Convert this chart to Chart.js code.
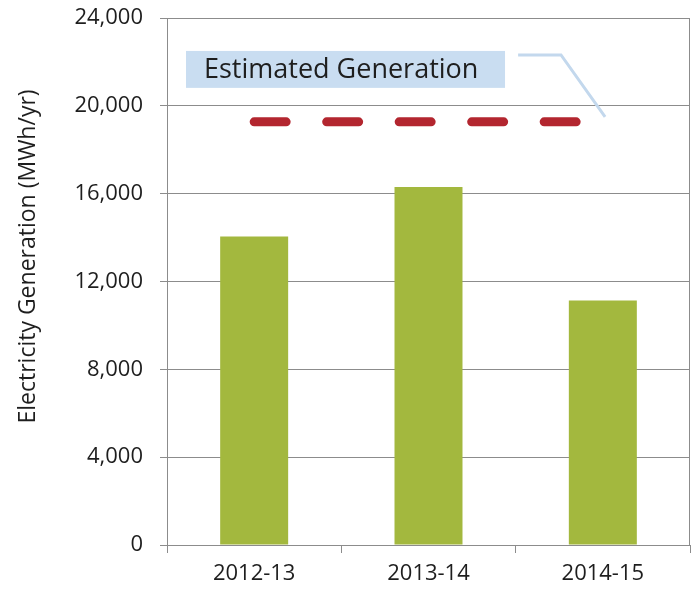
<!DOCTYPE html>
<html>
<head>
<meta charset="utf-8">
<script src="https://cdn.jsdelivr.net/npm/chart.js@4/dist/chart.umd.min.js"></script>
<style>
  html, body { margin: 0; padding: 0; background: #ffffff; }
  #wrap { width: 695px; height: 593px; }
</style>
</head>
<body>
<div id="wrap"><canvas id="c" width="695" height="593"></canvas></div>
<script>
const categories = ['2012-13', '2013-14', '2014-15'];
const generation = [14050, 16300, 11130];
const estimated = [19270, 19270, 19270];
const yTicks = [0, 4000, 8000, 12000, 16000, 20000, 24000];
const yTitle = 'Electricity Generation (MWh/yr)';
const annotationText = 'Estimated Generation';

const FONT = "'Open Sans', 'DejaVu Sans', sans-serif";

const decor = {
  id: 'decor',
  afterDraw(chart) {
    const { ctx, chartArea, scales } = chart;
    const x = scales.x, y = scales.y;
    ctx.save();
    // right border of plot frame
    ctx.strokeStyle = '#8c8c8c';
    ctx.lineWidth = 1;
    ctx.beginPath();
    ctx.moveTo(Math.round(chartArea.right) - 0.5, chartArea.top);
    ctx.lineTo(Math.round(chartArea.right) - 0.5, chartArea.bottom);
    ctx.stroke();

    // annotation box
    const bx1 = x.getPixelForValue(-0.391), bx2 = x.getPixelForValue(1.439);
    const by1 = y.getPixelForValue(22500), by2 = y.getPixelForValue(20818);
    ctx.fillStyle = '#c9ddf1';
    ctx.fillRect(bx1, by1, bx2 - bx1, by2 - by1);
    ctx.fillStyle = '#1e1e1e';
    ctx.font = '27px ' + FONT;
    ctx.textBaseline = 'middle';
    ctx.textAlign = 'left';
    ctx.fillText(annotationText, x.getPixelForValue(-0.288), (by1 + by2) / 2 + 1);

    // leader line
    ctx.strokeStyle = '#c3d8ed';
    ctx.lineWidth = 3;
    ctx.beginPath();
    ctx.moveTo(x.getPixelForValue(1.514), y.getPixelForValue(22318));
    ctx.lineTo(x.getPixelForValue(1.76), y.getPixelForValue(22318));
    ctx.lineTo(x.getPixelForValue(2.013), y.getPixelForValue(19500));
    ctx.stroke();

    // y axis title
    ctx.fillStyle = '#1e1e1e';
    ctx.font = '23px ' + FONT;
    ctx.textAlign = 'center';
    ctx.textBaseline = 'middle';
    ctx.translate(28, y.getPixelForValue(13140));
    ctx.rotate(-Math.PI / 2);
    ctx.fillText(yTitle, 0, 0);
    ctx.restore();
  }
};

new Chart(document.getElementById('c'), {
  type: 'bar',
  data: {
    labels: categories,
    datasets: [
      {
        type: 'line',
        label: 'Estimated',
        data: estimated,
        borderColor: '#b3262f',
        borderWidth: 9,
        borderDash: [32, 40.5],
        borderCapStyle: 'round',
        pointRadius: 0,
        fill: false,
        order: 0
      },
      {
        label: 'Generation',
        data: generation,
        backgroundColor: '#a3b83e',
        borderWidth: 0,
        barPercentage: 0.39,
        categoryPercentage: 1.0,
        order: 1
      }
    ]
  },
  options: {
    responsive: false,
    animation: false,
    devicePixelRatio: 1,
    layout: { padding: { top: 18, right: 5, bottom: 2, left: 0 } },
    plugins: { legend: { display: false }, tooltip: { enabled: false } },
    scales: {
      x: {
        offset: true,
        afterFit(scale) { scale.height = 46; scale.paddingLeft = 0; scale.paddingRight = 0; },
        grid: { display: true, drawOnChartArea: false, drawTicks: true, tickLength: 8, color: '#8c8c8c', offset: true },
        border: { display: true, color: '#8c8c8c' },
        ticks: { color: '#1e1e1e', font: { family: FONT, size: 22 }, padding: 8, maxRotation: 0 }
      },
      y: {
        min: 0,
        max: 24000,
        afterBuildTicks(scale) { scale.ticks = yTicks.map(v => ({ value: v })); },
        afterFit(scale) { scale.width = 167; scale.paddingTop = 0; scale.paddingBottom = 0; },
        grid: { color: '#8c8c8c', tickLength: 7, drawTicks: true },
        border: { display: true, color: '#8c8c8c' },
        ticks: {
          color: '#1e1e1e',
          font: { family: FONT, size: 22 },
          padding: 17,
          callback: v => Number(v).toLocaleString('en-US')
        }
      }
    }
  },
  plugins: [decor]
});
</script>
</body>
</html>
